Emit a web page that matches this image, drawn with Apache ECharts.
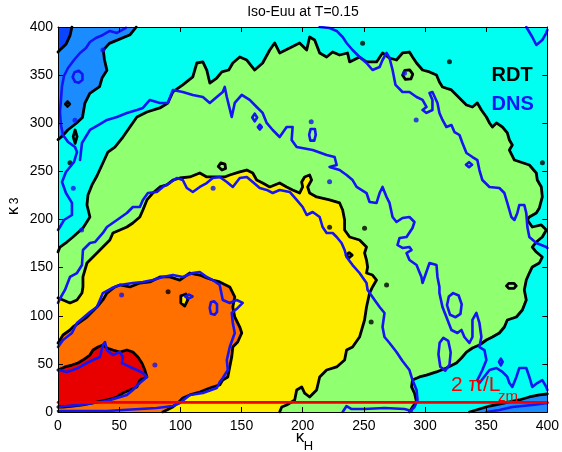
<!DOCTYPE html>
<html>
<head>
<meta charset="utf-8">
<script src="https://cdn.jsdelivr.net/npm/echarts@6/dist/echarts.min.js"></script>
<style>html,body{margin:0;padding:0;background:#fff}#chart{width:562px;height:452px}</style>
</head>
<body>
<div id="chart"></div>
<script>
// Iso-contours of Euu in the (kappa_H, kappa_3) plane, RDT (black) vs DNS (blue)

const TITLE = 'Iso-Euu at T=0.15';
const K_RANGE = [0, 400];
const K_STEP = 50;
const CUTOFF_K3 = 10;   // 2*pi / L_zm

// RDT contour lines (filled levels use them as boundaries)
const rdtCorner = [[11.4,400],[9.8,391],[6.5,382],[1.6,376],[0,374]];
const rdtTopLeft = [[64,400],[59,392],[42,383],[37,376],[38,366],[40,355],[36,347],[34,338],[26,331],[22,321],[20,306],[15,300],[8,293],[3,286],[0,283]];
const rdtBottomRight = [[336.3,0],[344.5,3.1],[352.7,6.2],[360.8,8.3],[369,10.4],[377.1,12.5],[385.3,15.6],[393.5,17.7],[400,18.7]];
const rdtLevelGreen = [[0,166.2],[1.6,171.4],[7.3,176.6],[12.2,181.8],[20.4,191.2],[26.1,202.6],[23.7,215.1],[24.5,225.5],[27.8,235.9],[31.8,245.2],[36.7,258.7],[40.8,270.1],[46.5,275.3],[53.1,285.7],[58.8,296.1],[64.5,306.5],[72.7,311.7],[83.3,315.9],[89.8,321.1],[93.9,332.5],[102,339.8],[110.2,348.1],[113.5,362.6],[118.4,363.7],[121.6,355.3],[124.1,341.8],[129.8,347],[133.9,353.3],[139.6,355.3],[142.9,362.6],[148.6,368.8],[154.3,365.7],[160.8,355.3],[167.3,362.6],[173.1,376.1],[177.1,383.4],[181.2,373],[189.4,378.2],[197.5,383.4],[203.3,376.1],[205.7,389.6],[209.8,386.5],[213.9,373],[219.6,368.8],[224.5,374],[230.2,370.9],[236.7,373],[238.4,363.7],[246.5,368.8],[252.2,363.7],[260.4,363.7],[265.3,373],[271,367.8],[276.7,365.7],[281.6,373],[287.3,374],[289.8,368.8],[293.1,362.6],[298,355.3],[303.7,353.3],[309.4,350.1],[311.8,342.9],[314.3,337.7],[321.6,334.6],[325.7,329.4],[329.8,324.2],[333.9,319],[338.8,316.9],[342.8,321.1],[346.1,313.8],[350.2,306.5],[352.7,300.3],[355.1,296.1],[358.4,300.3],[363.3,296.1],[367.3,289.9],[369,282.6],[371.4,277.4],[369,272.2],[373.1,261.8],[385.3,256.6],[391,248.3],[391.8,241],[395.1,233.8],[395.9,223.4],[393.5,212],[391,206.8],[385.3,202.6],[383.7,199.5],[387.7,192.2],[395.1,194.3],[399.2,189.1],[395.9,181.8],[391,176.6],[387.7,171.4],[391,166.2],[395.9,161],[393.5,154.8],[387.7,150.7],[385.3,144.4],[382.8,137.1],[381.2,126.8],[382.8,116.4],[379.6,106],[374.7,98.7],[367.3,95.6],[364.9,88.3],[360.8,82.1],[355.1,77.9],[350.2,74.8],[344.5,69.6],[338.8,66.5],[333.9,62.3],[329.8,56.1],[325.7,50.9],[317.5,45.7],[309.4,41.6],[301.2,38.4],[295.5,36.4],[289.8,33.2],[289,26],[291.4,19.7],[293.1,10.4],[289.8,5.2],[287.3,0]];
const rdtLevelYellow = [[0,118.4],[4.1,116.4],[9.8,113.3],[15.5,116.4],[19.6,123.6],[20.4,129.9],[20.4,140.3],[23.7,154.8],[28.6,161],[34.3,168.3],[36.7,171.4],[42.4,178.7],[44.9,186],[50.6,189.1],[56.3,192.2],[61.2,196.4],[66.9,202.6],[69.4,209.9],[72.7,220.3],[77.5,227.5],[83.3,233.8],[89,235.9],[93.9,241],[99.6,243.1],[107.8,244.2],[115.9,248.3],[121.6,244.2],[129.8,244.2],[136.3,244.2],[140.4,246.2],[148.6,249.4],[154.3,251.4],[159.2,248.3],[162.4,241],[167.3,237.9],[173.1,233.8],[181.2,237.9],[186.9,233.8],[191.8,230.7],[197.5,227.5],[200,233.8],[199.2,239],[201.6,244.2],[205.7,246.2],[207.3,241],[204.1,233.8],[205.7,227.5],[211.4,223.4],[222,220.3],[230.2,217.2],[232.7,209.9],[234.3,199.5],[234.3,189.1],[238.4,181.8],[246.5,178.7],[252.2,171.4],[250.6,165.2],[252.2,157.9],[253.1,150.7],[252.2,144.4],[257.1,142.3],[260.4,137.1],[257.1,129.9],[254.7,123.6],[252.2,109.1],[250.6,95.6],[246.5,77.9],[240.8,67.5],[235.9,64.4],[234.3,54],[227.8,46.8],[219.6,43.6],[213.9,36.4],[211.4,22.9],[205.7,15.6],[201.6,19.7],[199.2,26],[195.1,22.9],[193.5,12.5],[186.9,7.3],[182.9,5.2],[181.2,0]];
const rdtLevelOrange = [[0,71.7],[1.6,74.8],[4.1,80],[9.8,85.2],[12.2,88.3],[18,93.5],[23.7,98.7],[31.8,109.1],[36.7,116.4],[40,123.6],[46.5,129.9],[50.6,132],[58.8,129.9],[66.9,134],[75.1,135.1],[83.3,140.3],[91.4,140.3],[99.6,137.1],[107.8,144.4],[115.9,142.3],[121.6,139.2],[126.5,137.1],[132.2,135.1],[140.4,129.9],[144.5,119.5],[142.9,109.1],[144.5,98.7],[148.6,88.3],[150.2,82.1],[146.9,72.7],[142.9,67.5],[142,57.1],[140.4,46.8],[138.8,36.4],[134.7,33.2],[132.2,28.1],[124.1,24.9],[115.9,20.8],[107.8,17.7],[102,14.5],[98,9.4],[93.9,5.2],[89,2.1],[85.7,0]];
const rdtLevelRed = [[0,43.6],[5.7,46.8],[11.4,48.8],[16.3,50.9],[20.4,54],[26.1,59.2],[28.6,64.4],[32.7,67.5],[36.7,69.6],[40,66.5],[44.9,64.4],[50.6,62.3],[56.3,64.4],[61.2,62.3],[65.3,57.1],[68.6,50.9],[71,43.6],[72.7,36.4],[66.9,33.2],[64.5,26],[58.8,22.9],[53.1,19.7],[48.2,15.6],[40,12.5],[28.6,9.4],[20.4,7.3],[12.2,6.2],[4.1,5.2],[0,5.2]];
const rdtYellowPocket = [[100.4,120.5],[104.5,122.6],[106.1,116.4],[103.6,110.1],[100.4,113.3],[100.4,120.5]];
const rdtIslands = [
  [[6,320],[7.8,322.5],[9.6,320],[7.8,317.5],[6,320]],
  [[12.4,286],[14,293],[15.6,286],[14,279],[12.4,286]],
  [[281.7,350],[283.5,355],[287.5,355.5],[290,351],[288.5,346],[284,345.5],[281.7,350]],
  [[366.6,131],[368.5,133.6],[372.8,133.6],[374.6,131],[372.8,128.4],[368.5,128.4],[366.6,131]],
  [[235.5,163],[238,165.6],[240.5,163],[238,160.4],[235.5,163]],
  [[131,255],[133,258.8],[136.5,257.5],[137,253],[134,251.4],[131,255]]
];
const rdtSpots = [[222,192],[250.6,191],[268.6,132],[256,93.5],[396,259],[90,125],[249,383],[320,364],[9.8,259]];

// DNS contour lines
const dnsTopLeft = [[55.5,399],[48.2,393.8],[42.4,395.9],[36.7,391.7],[31,388.6],[26.1,384.4],[22.9,378.2],[18,373],[13.1,365.7],[8.2,357.4],[4.9,349.1],[3.3,338.7],[2.4,324.2],[1.6,311.7],[2.4,298.2],[4.1,287.8],[8.2,280.5],[13.9,275.3],[15.5,270.1],[13.1,259.8],[6.5,249.4],[3.3,239],[6.5,227.5],[11.4,217.2],[11.4,204.7],[4.9,199.5],[1.6,192.2],[0,189.1]];
const dnsTopRightCorner = [[382.8,400],[387.7,389.6],[391,381.3],[395.9,386.5],[399.2,393.8],[400,397]];
const dnsOuter = [[213.9,400],[222,399],[227.8,395.9],[232.7,389.6],[235.9,383.4],[240.8,376.1],[246.5,368.8],[252.2,362.6],[257.1,355.3],[262.9,358.5],[265.3,365.7],[268.6,373],[271,367.8],[273.5,355.3],[275.9,339.8],[281.6,332.5],[287.3,332.5],[293.1,327.3],[298,324.2],[301.2,316.9],[298,313.8],[301.2,310.7],[306.1,313.8],[306.1,324.2],[303.7,331.4],[306.1,332.5],[310.2,321.1],[311.8,310.7],[314.3,303.4],[317.5,296.1],[321.6,298.2],[324.1,290.9],[328.2,287.8],[330.6,279.5],[333.9,269.1],[338.8,264.9],[342.8,261.8],[344.5,251.4],[346.9,241],[352.7,233.8],[360.8,232.7],[364.9,227.5],[367.3,217.2],[370.6,202.6],[373.1,199.5],[375.5,206.8],[377.1,215.1],[381.2,215.1],[382.8,206.8],[383.7,192.2],[385.3,181.8],[391,175.6],[399.2,171.4],[400,170.4]];
const dnsGreen = [[18,261.8],[19.6,279.5],[26.1,293],[34.3,299.2],[40,303.4],[48.2,306.5],[56.3,310.7],[64.5,313.8],[69.4,315.9],[75.1,324.2],[83.3,321.1],[89.8,321.1],[93.9,334.6],[102,332.5],[110.2,329.4],[118.4,327.3],[124.1,321.1],[129.8,327.3],[134.7,332.5],[136.3,337.7],[138,327.3],[142,306.5],[144.5,321.1],[150.2,329.4],[156.7,324.2],[162.4,316.9],[167.3,310.7],[170.6,300.3],[175.5,293],[181.2,285.7],[186.9,296.1],[191.8,296.1],[191,282.6],[195.1,275.3],[208.2,272.2],[219.6,267],[226.1,264.9],[227.8,256.6],[222,254.6],[230.2,251.4],[235.9,246.2],[240.8,241],[244.1,233.8],[252.2,227.5],[254.7,218.2],[260.4,217.2],[262.9,227.5],[265.3,233.8],[268.6,223.4],[271,217.2],[273.5,202.6],[276.7,197.4],[281.6,201.6],[287.3,202.6],[291.4,197.4],[289.8,191.2],[284.9,181.8],[279.2,180.8],[277.5,173.5],[281.6,170.4],[287.3,171.4],[289,168.3],[284.9,165.2],[287.3,157.9],[293.1,152.7],[297.1,140.3],[298,134],[303.7,154.8],[309.4,152.7],[310.2,140.3],[311.8,129.9],[311.8,123.6],[314.3,109.1],[317.5,98.7],[321.6,85.2],[326.5,82.1],[329.8,85.2],[332.2,77.9],[336.3,71.7],[338.8,77.9],[338.8,95.6],[342,102.9],[344.5,92.5],[346.1,77.9],[344.5,67.5],[348.6,64.4],[350.2,54],[346.9,43.6],[342.8,33.2],[344.5,30.1],[352.7,43.6],[358.4,45.7],[363.3,41.6],[367.3,36.4],[369,30.1],[371.4,26],[374.7,36.4],[377.1,45.7],[382.8,45.7],[385.3,36.4],[387.7,26],[391.8,30.1],[395.9,33.2],[399.2,26],[400,22.9]];
const dnsYellow = [[0,113.3],[2.4,119.5],[5.7,126.8],[9.8,140.3],[15.5,144.4],[19.6,152.7],[20.4,168.3],[26.1,175.6],[30.2,176.6],[36.7,186],[40,192.2],[48.2,199.5],[56.3,206.8],[61.2,213],[66.9,213],[69.4,220.3],[73.5,227.5],[80.8,228.6],[85.7,233.8],[91.4,237.9],[97.1,243.1],[102,241],[105.3,232.7],[110.2,228.6],[115.9,233.8],[121.6,237.9],[126.5,243.1],[132.2,244.2],[138,239],[142.9,233.8],[148.6,243.1],[154.3,244.2],[159.2,239],[164.9,232.7],[170.6,230.7],[175.5,227.5],[181.2,230.7],[189.4,228.6],[195.1,220.3],[200,213],[203.3,204.7],[208.2,207.8],[213.9,202.6],[216.3,192.2],[219.6,186],[224.5,186],[227.8,181.8],[231.8,175.6],[234.3,168.3],[235.9,161],[240.8,152.7],[246.5,144.4],[252.2,134],[253.1,126.8],[258.8,116.4],[262.9,109.1],[266.9,102.9],[265.3,88.3],[266.9,77.9],[271,71.7],[276.7,62.3],[281.6,53],[287.3,43.6],[289.8,33.2],[293.1,22.9],[293.9,12.5],[291.4,5.2],[287.3,0]];
const dnsOrange = [[0,67.5],[4.1,74.8],[11.4,82.1],[15.5,92.5],[20.4,97.7],[26.1,103.9],[31.8,109.1],[34.3,116.4],[36.7,123.6],[44.1,128.8],[50.6,132],[61.2,134],[69.4,135.1],[77.5,137.1],[85.7,140.3],[93.9,142.3],[102,140.3],[110.2,144.4],[115.9,145.5],[121.6,140.3],[126.5,137.1],[132.2,132],[134.7,116.4],[140.4,113.3],[146.1,116.4],[151,113.3],[146.9,108.1],[142,102.9],[142.9,92.5],[144.5,82.1],[140.4,67.5],[138,54],[138.8,43.6],[134.7,35.3],[132.2,31.2],[129.8,24.9],[118.4,19.7],[107.8,17.7],[99.6,9.4],[93.9,6.2],[80.8,4.2],[66.9,3.1],[53.1,2.1],[40,1],[26.1,1],[9.8,1],[0,1]];
const dnsRed = [[0,43.6],[7.3,41.6],[12.2,43.6],[16.3,45.7],[23.7,50.9],[28.6,54],[34.3,57.1],[36.7,69.6],[38.4,72.7],[40,64.4],[44.9,59.2],[50.6,62.3],[53.1,57.1],[52.2,50.9],[58.8,46.8],[64.5,43.6],[69.4,40.5],[72.7,36.4],[66.9,30.1],[61.2,22.9],[56.3,17.7],[48.2,14.5],[40,11.4],[28.6,9.4],[18,7.3],[7.3,6.2],[0,5.2]];
const dnsBottom = [[232.7,0],[235.9,6.2],[240,3.1],[250.6,3.1],[266.9,4.2],[283.3,3.1],[289,1]];
const dnsBottomRight = [[350.2,0],[360.8,2.1],[371.4,5.2],[387.7,7.3],[400,9.4]];
const dnsLoops = [
  [[12,348],[13.5,353],[17,354.5],[20,351],[20,345],[17,342],[14,343],[12,348]],
  [[158.8,306],[160.8,310],[162.8,306],[160.8,302],[158.8,306]],
  [[163.4,296],[165,298.5],[166.6,296],[165,293.5],[163.4,296]],
  [[205.3,288],[206.5,294],[208,295.8],[210,294],[210.7,288],[209.5,282],[208,280.2],[206.3,282],[205.3,288]],
  [[318,111],[319.5,120],[323,123.5],[327.5,121],[330,112],[329,102],[325,98.5],[320.5,101],[318,111]],
  [[311,60],[312,72],[315,77],[319,74],[321,62],[320,49],[316.5,43],[312.5,47],[311,60]],
  [[360.5,52],[362,55.5],[363.5,52],[362,48.5],[360.5,52]],
  [[333.5,257],[336,259.6],[338.5,257],[336,254.4],[333.5,257]],
  [[124,108],[125,114],[127.5,115],[130,112],[130,104],[128,101],[125,102],[124,108]],
  [[104,120],[107,122],[110,120],[107,118],[104,120]]
];
const dnsSpots = [[13.9,303],[36.7,376],[12.5,232.4],[19.3,189],[126.8,232.4],[79.2,48.8],[52,121.6],[292.8,303.4],[222,239.3],[207,301.6],[283.3,352]];

// fill colours, outer to inner level
const COLORS = {
  deep: '#0a46ff', blue: '#1a8cff', cyan: '#00fff0',
  green: '#90ff70', yellow: '#ffed00', orange: '#ff7000', red: '#e80000'
};
const RDT_COLOR = '#000000';
const DNS_COLOR = '#1414f5';
const CUT_COLOR = '#f00000';
const FONT = '"Liberation Sans", Arial, Helvetica, sans-serif';

function fillArea(points, color) {
  return {
    type: 'custom', coordinateSystem: 'cartesian2d', clip: true, silent: true, z: 1,
    data: [[0, 0]],
    renderItem: function (params, api) {
      return { type: 'polygon', shape: { points: points.map(function (p) { return api.coord(p); }) },
               style: { fill: color, stroke: null } };
    }
  };
}
function contour(points, color, width, z) {
  return {
    type: 'line', data: points, symbol: 'none', showSymbol: false, silent: true, clip: true, z: z,
    lineStyle: { color: color, width: width, join: 'round', cap: 'round' }
  };
}
function spots(points, color, size, z) {
  return { type: 'scatter', data: points, symbolSize: size, silent: true, z: z,
           itemStyle: { color: color } };
}

const series = [
  fillArea(rdtTopLeft.concat([[0, 400]]), COLORS.blue),
  fillArea(rdtCorner.concat([[0, 400]]), COLORS.deep),
  fillArea(rdtBottomRight.concat([[400, 0]]), COLORS.blue),
  fillArea(rdtLevelGreen.concat([[0, 0]]), COLORS.green),
  fillArea(rdtLevelYellow.concat([[0, 0]]), COLORS.yellow),
  fillArea(rdtLevelOrange.concat([[0, 0]]), COLORS.orange),
  fillArea(rdtYellowPocket, COLORS.yellow),
  fillArea(rdtLevelRed, COLORS.red)
];
[rdtCorner, rdtTopLeft, rdtBottomRight, rdtLevelGreen, rdtLevelYellow, rdtLevelOrange,
 rdtLevelRed, rdtYellowPocket].concat(rdtIslands).forEach(function (c) {
  series.push(contour(c, RDT_COLOR, 2.8, 3));
});
series.push(spots(rdtSpots, RDT_COLOR, 5, 3));
[dnsTopLeft, dnsTopRightCorner, dnsOuter, dnsGreen, dnsYellow, dnsOrange, dnsRed,
 dnsBottom, dnsBottomRight].concat(dnsLoops).forEach(function (c) {
  series.push(contour(c, DNS_COLOR, 2.6, 4));
});
series.push(spots(dnsSpots, DNS_COLOR, 5, 4));
series.push(contour([[K_RANGE[0], CUTOFF_K3], [K_RANGE[1], CUTOFF_K3]], CUT_COLOR, 2.6, 5));

function axis(position, labels) {
  return {
    type: 'value', min: K_RANGE[0], max: K_RANGE[1], interval: K_STEP, position: position, z: 6,
    axisLine: { show: true, onZero: false, lineStyle: { color: '#000', width: 1 } },
    axisTick: { show: true, inside: true, length: 5, lineStyle: { color: '#000', width: 1 } },
    axisLabel: { show: labels, color: '#000', fontSize: 14, fontFamily: FONT,
                 margin: position === 'bottom' ? 7 : 5 },
    splitLine: { show: false }
  };
}

const chart = echarts.init(document.getElementById('chart'), null, { renderer: 'canvas' });
chart.setOption({
  animation: false,
  backgroundColor: '#ffffff',
  grid: { left: 58, right: 14, top: 27, bottom: 40, show: true, backgroundColor: COLORS.cyan, borderWidth: 0 },
  xAxis: [axis('bottom', true), axis('top', false)],
  yAxis: [axis('left', true), axis('right', false)],
  series: series,
  graphic: [
    { type: 'text', x: 303, y: 12, z: 10, style: { text: TITLE, fontSize: 14, fontFamily: FONT, fill: '#000', align: 'center', verticalAlign: 'middle' } },
    { type: 'text', x: 491.5, y: 75.5, z: 10, style: { text: 'RDT', fontSize: 20, fontWeight: 'bold', fontFamily: FONT, fill: RDT_COLOR, align: 'left', verticalAlign: 'middle' } },
    { type: 'text', x: 491.5, y: 104, z: 10, style: { text: 'DNS', fontSize: 20, fontWeight: 'bold', fontFamily: FONT, fill: DNS_COLOR, align: 'left', verticalAlign: 'middle' } },
    { type: 'text', x: 451, y: 385.5, z: 10, style: { text: '2 π/L', fontSize: 21, fontFamily: FONT, fill: CUT_COLOR, align: 'left', verticalAlign: 'middle' } },
    { type: 'text', x: 498, y: 396.5, z: 10, style: { text: 'zm', fontSize: 15, fontFamily: FONT, fill: CUT_COLOR, align: 'left', verticalAlign: 'middle' } },
    { type: 'text', x: 300, y: 437, z: 10, style: { text: 'κ', fontSize: 17, fontFamily: FONT, fill: '#000', align: 'center', verticalAlign: 'middle' } },
    { type: 'text', x: 308.5, y: 446.5, z: 10, style: { text: 'H', fontSize: 13, fontFamily: FONT, fill: '#000', align: 'center', verticalAlign: 'middle' } },
    { type: 'text', x: 13.5, y: 211, rotation: Math.PI / 2, z: 10, style: { text: 'κ', fontSize: 17, fontFamily: FONT, fill: '#000', align: 'center', verticalAlign: 'middle' } },
    { type: 'text', x: 14.5, y: 201, rotation: Math.PI / 2, z: 10, style: { text: '3', fontSize: 12, fontFamily: FONT, fill: '#000', align: 'center', verticalAlign: 'middle' } }
  ]
});
</script>
</body>
</html>
